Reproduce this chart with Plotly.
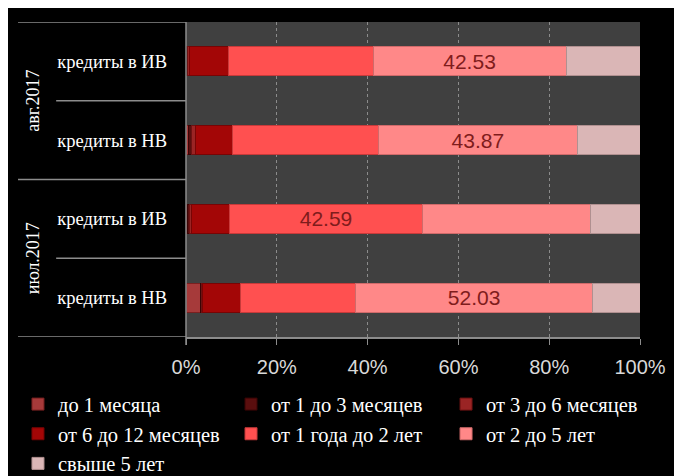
import plotly.graph_objects as go

# categories bottom -> top
groups = ["июл.2017", "июл.2017", "авг.2017", "авг.2017"]
categories = ["кредиты в НВ", "кредиты в ИВ", "кредиты в НВ", "кредиты в ИВ"]

series_names = [
    "до 1 месяца",
    "от 1 до 3 месяцев",
    "от 3 до 6 месяцев",
    "от 6 до 12 месяцев",
    "от 1 года до 2 лет",
    "от 2 до 5 лет",
    "свыше 5 лет",
]
v_do1m = [3.2, 0.4, 0.5, 0.2]
v_1_3m = [0.2, 0.3, 0.76, 0.2]
v_3_6m = [0.2, 0.6, 0.94, 0.26]
v_6_12m = [8.3, 8.24, 8.0, 8.59]
v_1_2y = [25.54, 42.59, 32.16, 31.94]
v_2_5y = [52.03, 36.87, 43.87, 42.53]
v_5y = [10.53, 11.0, 13.77, 16.28]
series_values = [v_do1m, v_1_3m, v_3_6m, v_6_12m, v_1_2y, v_2_5y, v_5y]

x_ticks = [0, 20, 40, 60, 80, 100]
x_ticktext = [f"{t}%" for t in x_ticks]

colors = ["#a63a3a", "#5a0e0e", "#9a2424", "#a30606", "#ff5050", "#ff8888", "#dab6b6"]
line_colors = ["#7a2020", "#3a0505", "#6e1212", "#780404", "#c83a3a", "#d06a6a", "#b09090"]
# legend column for each series (3 columns, row-major like the original)
legend_ids = ["legend", "legend2", "legend3", "legend", "legend2", "legend3", "legend"]

ypos = list(range(len(categories)))

# label only the largest segment of each bar
maxima = [max(s[i] for s in series_values) for i in ypos]

fig = go.Figure()
for k, (name, vals, c, lc, lg) in enumerate(zip(series_names, series_values, colors, line_colors, legend_ids)):
    texts = [f"{v:.2f}" if v == maxima[i] else "" for i, v in enumerate(vals)]
    fig.add_trace(go.Bar(
        name=name, y=ypos, x=vals, orientation="h", width=0.37,
        marker=dict(color=c, line=dict(color=lc, width=1)),
        text=texts, textposition="inside", insidetextanchor="middle",
        textfont=dict(family="Liberation Sans", size=21, color="#7f1c1c"),
        hoverinfo="x+name", legend=lg, legendgroup=f"g{k}",
    ))

shapes = []
line_col = "#8c8c8c"
for yv in [-0.5, 1.5, 3.5]:
    shapes.append(dict(type="line", xref="paper", yref="y", x0=-0.37, x1=0, y0=yv, y1=yv,
                       line=dict(color=line_col, width=1.5)))
for yv in [0.5, 2.5]:
    shapes.append(dict(type="line", xref="paper", yref="y", x0=-0.286, x1=0, y0=yv, y1=yv,
                       line=dict(color=line_col, width=1.5)))
shapes.append(dict(type="line", xref="paper", yref="paper", x0=0, x1=0, y0=-0.025, y1=1.0,
                   line=dict(color=line_col, width=1.5)))

annotations = []
for g, yc in [(groups[0], 0.5), (groups[2], 2.5)]:
    annotations.append(dict(text=g, xref="paper", yref="y", x=-0.337, y=yc, showarrow=False,
                            xanchor="center", yanchor="middle",
                            textangle=-90, font=dict(family="Liberation Serif", size=18, color="white")))

legend_common = dict(
    orientation="v", xref="container", yref="container", xanchor="left",
    y=0.196, yanchor="top", tracegroupgap=3,
    font=dict(family="Liberation Serif", size=20.5, color="white"),
    bgcolor="rgba(0,0,0,0)", traceorder="normal",
)

fig.update_layout(
    width=674, height=468,
    barmode="stack",
    paper_bgcolor="black", plot_bgcolor="#404040",
    margin=dict(l=178, r=42, t=14, b=139, autoexpand=False),
    shapes=shapes, annotations=annotations,
    showlegend=True,
    legend=dict(x=0.0148, **legend_common),
    legend2=dict(x=0.3309, **legend_common),
    legend3=dict(x=0.6499, **legend_common),
    xaxis=dict(
        range=[0, 100], tickvals=x_ticks, ticktext=x_ticktext,
        tickfont=dict(family="Liberation Sans", size=20, color="#d9d9d9"),
        showgrid=True, gridcolor="#8c8c8c", griddash="dot", gridwidth=1,
        showline=True, linecolor=line_col, linewidth=1.5,
        ticks="outside", ticklen=6, tickcolor=line_col, ticklabelstandoff=5,
        zeroline=False, fixedrange=True, automargin=False,
    ),
    yaxis=dict(
        range=[-0.5, 3.5], tickvals=ypos, ticktext=categories,
        tickfont=dict(family="Liberation Serif", size=18.5, color="white"),
        showgrid=False, zeroline=False, ticks="", ticklabelstandoff=18,
        fixedrange=True, automargin=False,
    ),
)

fig.write_html("out.html")
